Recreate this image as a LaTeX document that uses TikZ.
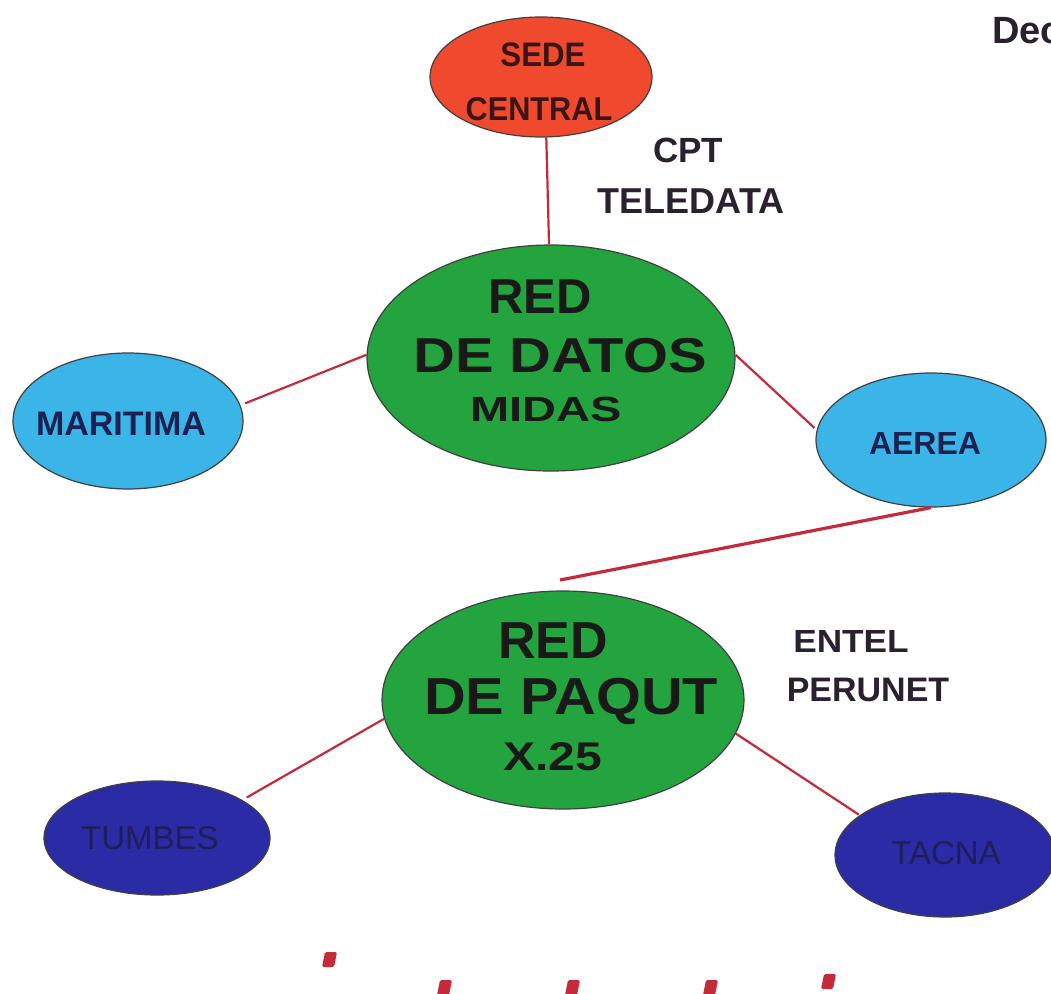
\documentclass[tikz,border=0pt]{standalone}
\usepackage{fontspec}
\setmainfont{Liberation Sans}
\usetikzlibrary{shapes.geometric}
\definecolor{sedered}{HTML}{F04A2E}
\definecolor{grn}{HTML}{23A43E}
\definecolor{ltblue}{HTML}{3BB5E8}
\definecolor{dkblue}{HTML}{2B2BA5}
\definecolor{txt}{HTML}{2B2030}
\definecolor{sedetxt}{HTML}{3A1518}
\definecolor{navytxt}{HTML}{1B2150}
\definecolor{dimtxt}{HTML}{1E1E5A}
\definecolor{redline}{HTML}{C42A3A}
\newcommand{\fs}[1]{\fontsize{#1}{#1}\selectfont}
\begin{document}
\begin{tikzpicture}[x=1pt,y=-1pt,
  oval/.style={ellipse,draw=black!75,line width=1.2pt,inner sep=0pt},
  lbl/.style={inner sep=0pt,font=\bfseries},
  link/.style={draw=redline,line width=2.2pt},
  redmark/.style={fill=redline,rounded corners=1.5pt}]
\fill[white] (0,0) rectangle (1051,993);
\useasboundingbox (0,0) rectangle (1051,993);
\clip (0,0) rectangle (1051,993);
% ellipses
\node[oval,fill=sedered,minimum width=222pt,minimum height=120pt] (sede) at (541,77) {};
\node[oval,fill=grn,minimum width=368pt,minimum height=226pt] (datos) at (551,358) {};
\node[oval,fill=ltblue,minimum width=230pt,minimum height=136pt] (mar) at (128,421) {};
\node[oval,fill=ltblue,minimum width=230pt,minimum height=134pt] (aerea) at (931,440) {};
\node[oval,fill=grn,minimum width=362pt,minimum height=218pt] (paqut) at (563,700) {};
\node[oval,fill=dkblue,minimum width=226pt,minimum height=114pt] (tumbes) at (157,838) {};
\node[oval,fill=dkblue,minimum width=220pt,minimum height=124pt] (tacna) at (945,855) {};
% texts in ellipses
\node[lbl,text=sedetxt] (t1) at (543,55) {\fs{34}\scalebox{0.92}[1]{SEDE}};
\node[lbl,text=sedetxt] (t2) at (539,109) {\fs{33}\scalebox{0.93}[1]{CENTRAL}};
\node[lbl,text=black!90] (t3) at (540,297) {\fs{49}RED};
\node[lbl,text=black!90] (t4) at (560,356) {\fs{49}\scalebox{1.18}[1]{DE DATOS}};
\node[lbl,text=black!90] (t5) at (546,409) {\fs{35}\scalebox{1.34}[1]{MIDAS}};
\node[lbl,text=navytxt] (t6) at (121,424) {\fs{34}MARITIMA};
\node[lbl,text=navytxt] (t7) at (925,443) {\fs{32}AEREA};
\node[lbl,text=black!90] (t8) at (553,641) {\fs{52}RED};
\node[lbl,text=black!90] (t9) at (571,701) {\fs{52}\scalebox{1.11}[1]{DE PAQUT}};
\node[lbl,text=black!90] (t10) at (553,757) {\fs{40}\scalebox{1.2}[1]{X.25}};
\node[inner sep=0pt,text=dimtxt] (t11) at (150,838) {\fs{33}TUMBES};
\node[inner sep=0pt,text=dimtxt] (t12) at (946,853) {\fs{33}TACNA};
% free labels
\node[lbl,text=txt] (cpt) at (688,150) {\fs{35}CPT};
\node[lbl,text=txt] (tele) at (691,201) {\fs{36}TELEDATA};
\node[lbl,text=txt] (entel) at (851,641) {\fs{32}\scalebox{1.1}[1]{ENTEL}};
\node[lbl,text=txt] (peru) at (868,690) {\fs{34}PERUNET};
\node[lbl,text=txt,anchor=west] (dec) at (992,31) {\fs{38}Dec};
% connectors
\coordinate (free) at (560,580);
\draw[link] (sede.-85) -- (datos.91);
\draw[link,shorten <=5pt] (mar.8) -- (datos.179);
\draw[link,shorten >=3pt] (datos.1) -- (aerea.175);
\draw[link,line width=3.2pt] (aerea.south) -- (free);
\draw[link,shorten <=5pt] (tumbes.24) -- (paqut.186);
\draw[link,shorten >=1pt] (paqut.-11) -- (tacna.155);
% red marks
\foreach \mx/\my in {322/952, 437/980, 565/980, 703/980, 821/974}
  \fill[redmark] (\mx,\my+15) -- (\mx+12,\my+15) -- (\mx+15,\my) -- (\mx+3,\my) -- cycle;
\end{tikzpicture}
\end{document}
